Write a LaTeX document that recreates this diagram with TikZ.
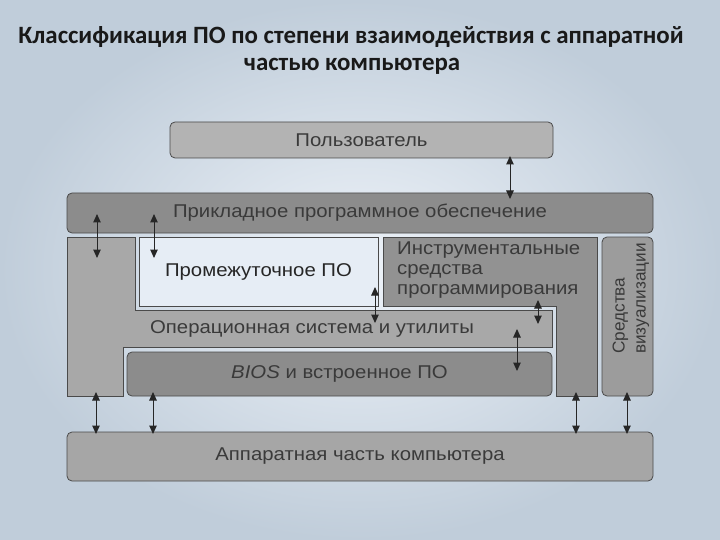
\documentclass[tikz,border=0pt]{standalone}
\usepackage{graphicx}
\usepackage{fontspec}
\setmainfont{Liberation Sans}
\newfontfamily\titlefont{Carlito}
\usetikzlibrary{arrows.meta}
\definecolor{bgin}{HTML}{EEF3F9}
\definecolor{bgout}{HTML}{C0CDDA}
\definecolor{edge}{HTML}{4A4A4A}
\definecolor{txt}{HTML}{3A3A3A}
\definecolor{cuser}{HTML}{B3B3B3}
\definecolor{capp}{HTML}{8C8C8C}
\definecolor{cos}{HTML}{A8A8A8}
\definecolor{ctools}{HTML}{929292}
\definecolor{cbios}{HTML}{8C8C8C}
\definecolor{cvis}{HTML}{9C9C9C}
\definecolor{chw}{HTML}{A6A6A6}
\definecolor{cmid}{HTML}{E6EDF5}
\newcommand{\hs}[1]{\scalebox{1.1}[1]{#1}}
\tikzset{
  rbox/.style={draw=edge, line width=0.8pt, rounded corners=5pt, inner sep=0pt, text=txt,
    font=\fontsize{18.5}{20}\selectfont},
  sbox/.style={draw=edge, line width=0.8pt},
  lbl/.style={inner sep=0pt, text=txt, font=\fontsize{18.5}{20}\selectfont},
  arr/.style={{Triangle[length=8.5pt,width=7.5pt]}-{Triangle[length=8.5pt,width=7.5pt]},
    line width=1pt, draw=black!85, fill=black!85},
  ttl/.style={inner sep=0pt, font=\titlefont\bfseries\fontsize{24.9}{30}\selectfont, text=black!90}
}
\begin{document}
\begin{tikzpicture}[x=1pt,y=-1pt]
\useasboundingbox (0,0) rectangle (720,540);
\shade[inner color=bgin, outer color=bgout] (0,0) rectangle (720,540);

% title
\node[ttl] (t1) at (351,37) {Классификация ПО по степени взаимодействия с аппаратной};
\node[ttl] (t2) at (352,66) {частью компьютера};

% boxes
\node[rbox, fill=cuser, minimum width=383pt, minimum height=36pt] (user) at (361.5,140) {\hs{Пользователь}};
\node[rbox, fill=capp, minimum width=586pt, minimum height=40pt] (app) at (360,213) {\hs{Прикладное программное обеспечение}};

% operating system (L-shaped region)
\draw[sbox, fill=cos] (67,237) -- (135,237) -- (135,310) -- (552,310) -- (552,347)
  -- (123,347) -- (123,396) -- (67,396) -- cycle;
\node[lbl] (os) at (312,329) {\hs{Операционная система и утилиты}};

% middleware
\node[draw=edge, line width=0.8pt, fill=cmid, minimum width=239pt, minimum height=69pt,
  inner sep=0pt, text=black!85, font=\fontsize{18.5}{20}\selectfont] (mid) at (258.5,271.5) {\hs{Промежуточное ПО}};

% programming tools
\draw[sbox, fill=ctools] (383,237) -- (597,237) -- (597,396) -- (556,396) -- (556,306)
  -- (383,306) -- cycle;
\node[lbl, align=left, anchor=west, xscale=1.1, font=\fontsize{18.5}{20}\selectfont] (tools) at (397,270)
  {Инструментальные\\средства\\программирования};

% BIOS
\node[rbox, fill=cbios, minimum width=425pt, minimum height=44pt] (bios) at (339.5,374)
  {\hs{\itshape BIOS\upshape{} и встроенное ПО}};

% visualisation
\node[rbox, fill=cvis, minimum width=51pt, minimum height=159pt] (vis) at (627.5,316.5) {};
\node[lbl, rotate=90, align=left, anchor=west, font=\fontsize{17.2}{21}\selectfont] (vist) at (631,354)
  {Средства\\визуализации};

% hardware
\node[rbox, fill=chw, minimum width=586pt, minimum height=49pt] (hw) at (360,456.5) {\hs{Аппаратная часть компьютера}};

% arrow end points
\coordinate (a1u) at (510,156); \coordinate (a1d) at (510,199);
\coordinate (a2u) at (97,214);  \coordinate (a2d) at (97,258);
\coordinate (a3u) at (154,214); \coordinate (a3d) at (154,258);
\coordinate (a4u) at (375,287); \coordinate (a4d) at (375,323);
\coordinate (a5u) at (538,300); \coordinate (a5d) at (538,324);
\coordinate (a6u) at (517,329); \coordinate (a6d) at (517,371);
\coordinate (a7u) at (96,392);  \coordinate (a7d) at (96,434);
\coordinate (a8u) at (153,392); \coordinate (a8d) at (153,434);
\coordinate (a9u) at (576,392); \coordinate (a9d) at (576,434);
\coordinate (a10u) at (627,392); \coordinate (a10d) at (627,434);

\foreach \i in {1,...,10} {\draw[arr] (a\i u) -- (a\i d);}
\end{tikzpicture}
\end{document}
